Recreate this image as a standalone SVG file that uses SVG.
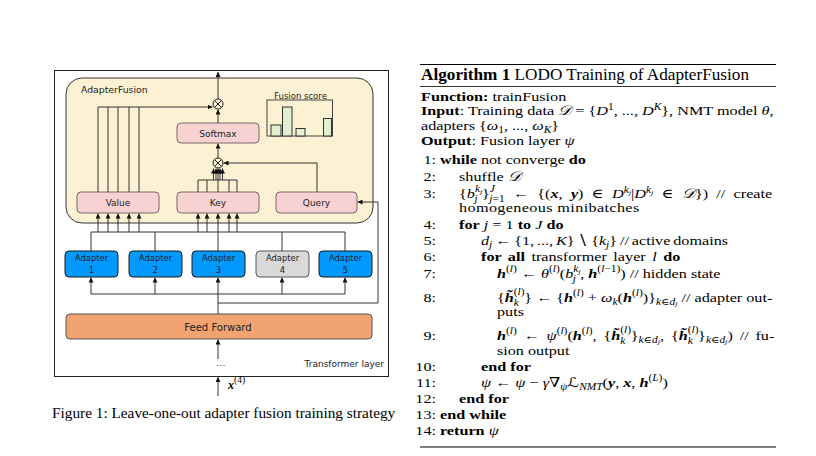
<svg xmlns="http://www.w3.org/2000/svg" width="816" height="456" viewBox="0 0 816 456">
<style>
.ln{fill:none;stroke:#333;stroke-width:1}
.ar{marker-end:url(#ah)}
.lbl{font-family:"DejaVu Sans",sans-serif;font-size:9px;fill:#222;text-anchor:middle}
.pk{fill:#f8d2d2;stroke:#7a6666;stroke-width:1}
.ad{fill:#0099ff;stroke:#1a1a1a;stroke-width:1}
.bar{fill:#e3f0cf;stroke:#333;stroke-width:1}
.t{font-family:"Liberation Serif","DejaVu Serif",serif;font-size:13.5px;fill:#000}
.num{text-anchor:end}
.b{font-weight:bold}
.i{font-style:italic}
.bi{font-weight:bold;font-style:italic}
.s{font-size:9.5px}
.ss{font-size:7px}
.cal{font-family:"DejaVu Serif","DejaVu Sans",serif;font-style:italic}
.rule{stroke:#000;fill:none}
</style>
<defs>
<marker id="ah" viewBox="0 0 6 6" refX="6" refY="3" markerWidth="5" markerHeight="5" markerUnits="userSpaceOnUse" orient="auto"><path d="M0,0L6,3L0,6z" fill="#111"/></marker>
</defs>
<rect width="816" height="456" fill="#fff"/>

<g id="transformer-layer">
<rect x="54.5" y="70.5" width="334" height="306" fill="#fff" stroke="#222"/>
<text class="lbl" x="384" y="367" style="text-anchor:end">Transformer layer</text>
</g>

<g id="adapter-fusion">
<rect x="66" y="78" width="307" height="145" rx="16" fill="#fcf1d2" stroke="#333"/>
<text class="lbl" x="81" y="93" style="text-anchor:start;font-size:9.3px">AdapterFusion</text>
</g>

<g id="fusion-score">
<text class="lbl" x="300.5" y="98.5" style="font-size:8.5px">Fusion score</text>
<rect x="267" y="100" width="65.5" height="36" fill="none" stroke="#444"/>
<rect class="bar" x="271" y="125" width="10" height="11"/>
<rect class="bar" x="282.5" y="107" width="9.5" height="29"/>
<rect class="bar" x="296" y="128.5" width="9" height="7.5"/>
<rect class="bar" x="323.5" y="118.5" width="8" height="17.5"/>
</g>

<g id="softmax"><rect class="pk" x="177" y="123" width="82" height="20" rx="4"/><text class="lbl" x="218" y="136.5">Softmax</text></g>
<g id="value"><rect class="pk" x="77" y="192" width="82" height="21" rx="4"/><text class="lbl" x="118" y="206">Value</text></g>
<g id="key"><rect class="pk" x="177" y="192" width="82" height="21" rx="4"/><text class="lbl" x="218" y="206">Key</text></g>
<g id="query"><rect class="pk" x="276" y="192" width="81" height="21" rx="4"/><text class="lbl" x="316.5" y="206">Query</text></g>

<g id="mult-top"><circle cx="218" cy="104" r="5" fill="#fcf1d2" stroke="#222"/><path d="M214.5,100.5L221.5,107.5M221.5,100.5L214.5,107.5" stroke="#222" fill="none"/></g>
<g id="mult-key"><circle cx="218" cy="163" r="5" fill="#fcf1d2" stroke="#222"/><path d="M214.5,159.5L221.5,166.5M221.5,159.5L214.5,166.5" stroke="#222" fill="none"/></g>

<g id="adapter-1"><rect class="ad" x="65" y="251" width="53" height="26" rx="4"/><text class="lbl" x="91.5" y="261" style="font-size:8.4px">Adapter</text><text class="lbl" x="91.5" y="272.5" style="font-size:8.4px">1</text></g>
<g id="adapter-2"><rect class="ad" x="129" y="251" width="53" height="26" rx="4"/><text class="lbl" x="155.5" y="261" style="font-size:8.4px">Adapter</text><text class="lbl" x="155.5" y="272.5" style="font-size:8.4px">2</text></g>
<g id="adapter-3"><rect class="ad" x="192" y="251" width="53" height="26" rx="4"/><text class="lbl" x="218.5" y="261" style="font-size:8.4px">Adapter</text><text class="lbl" x="218.5" y="272.5" style="font-size:8.4px">3</text></g>
<g id="adapter-4"><rect x="256" y="251" width="53" height="26" rx="4" fill="#d9d9d9" stroke="#555"/><text class="lbl" x="282.5" y="261" style="font-size:8.4px">Adapter</text><text class="lbl" x="282.5" y="272.5" style="font-size:8.4px">4</text></g>
<g id="adapter-5"><rect class="ad" x="319" y="251" width="53" height="26" rx="4"/><text class="lbl" x="345.5" y="261" style="font-size:8.4px">Adapter</text><text class="lbl" x="345.5" y="272.5" style="font-size:8.4px">5</text></g>

<g id="feed-forward"><rect x="66" y="314" width="306" height="25" rx="4" fill="#f1a371" stroke="#555"/><text class="lbl" x="218" y="330.5" style="font-size:10px">Feed Forward</text></g>

<g id="input">
<text class="lbl" x="221" y="366" style="font-size:9px">…</text>
<text class="t" x="228" y="389" style="font-size:12px"><tspan class="bi">x</tspan><tspan class="s" dy="-6">(4)</tspan></text>
</g>

<g id="connectors">
<path class="ln ar" d="M218,99V72"/>
<path class="ln ar" d="M218,123V109.5"/>
<path class="ln ar" d="M218,158V143.5"/>
<path class="ln ar" d="M98,192V107H212.5"/>
<path class="ln" d="M108,192V107M118,192V107M129,192V107M139,192V107"/>
<path class="ln" d="M198,192V180H237V192M207,192V180M218,192V180M229,192V180"/>
<path class="ln ar" d="M213.5,180V168.5"/>
<path class="ln ar" d="M216,180V168.5"/>
<path class="ln ar" d="M218,180V168.5"/>
<path class="ln ar" d="M220,180V168.5"/>
<path class="ln ar" d="M222.5,180V168.5"/>
<path class="ln ar" d="M317,192V163H223.5"/>
<path class="ln ar" d="M98,232V213.5"/>
<path class="ln ar" d="M108,232V213.5"/>
<path class="ln ar" d="M118,232V213.5"/>
<path class="ln ar" d="M129,232V213.5"/>
<path class="ln ar" d="M139,232V213.5"/>
<path class="ln ar" d="M198,232V213.5"/>
<path class="ln ar" d="M207,232V213.5"/>
<path class="ln ar" d="M218,251V213.5"/>
<path class="ln ar" d="M229,232V213.5"/>
<path class="ln ar" d="M237,232V213.5"/>
<path class="ln" d="M91,232H345M91,251V232M155,251V232M282,251V232M345,251V232"/>
<path class="ln ar" d="M218,314V277.5"/>
<path class="ln" d="M91,294H345"/>
<path class="ln ar" d="M91,294V277.5"/>
<path class="ln ar" d="M155,294V277.5"/>
<path class="ln ar" d="M282,294V277.5"/>
<path class="ln ar" d="M345,294V277.5"/>
<path class="ln ar" d="M218,303H378V202H357.5"/>
<path class="ln ar" d="M218,359V339.5"/>
<path class="ln ar" d="M218,396V377"/>
</g>

<text class="t" x="52" y="418" style="font-size:15.3px">Figure 1: Leave-one-out adapter fusion training strategy</text>

<g id="algorithm">
<path class="rule" d="M420,64.5H776" stroke-width="1.2"/>
<path class="rule" d="M420,86.5H776" stroke-width="0.8"/>
<path class="rule" d="M420,447H776" stroke-width="1.2"/>
<text class="t" x="421" y="80" style="font-size:17.2px"><tspan class="b">Algorithm 1</tspan> LODO Training of AdapterFusion</text>
<g transform="translate(421,0) scale(1.2,1) translate(-421,0)">
<text class="t" x="421" y="101"><tspan class="b">Function:</tspan> trainFusion</text>
<text class="t" x="421" y="115"><tspan class="b">Input</tspan>: Training data <tspan class="cal">𝒟</tspan> = {<tspan class="i">D</tspan><tspan class="s" dy="-5">1</tspan><tspan dy="5">, ..., </tspan><tspan class="i">D</tspan><tspan class="s i" dy="-5">K</tspan><tspan dy="5">}, NMT model </tspan><tspan class="i">θ</tspan>,</text>
<text class="t" x="421" y="130">adapters {<tspan class="i">ω</tspan><tspan class="s" dy="3">1</tspan><tspan dy="-3">, ..., </tspan><tspan class="i">ω</tspan><tspan class="s i" dy="3">K</tspan><tspan dy="-3">}</tspan></text>
<text class="t" x="421" y="145"><tspan class="b">Output</tspan>: Fusion layer <tspan class="i">ψ</tspan></text>

<text class="t num" x="433.5" y="164">1:</text>
<text class="t num" x="433.5" y="181">2:</text>
<text class="t num" x="433.5" y="198">3:</text>
<text class="t num" x="433.5" y="229">4:</text>
<text class="t num" x="433.5" y="245">5:</text>
<text class="t num" x="433.5" y="261">6:</text>
<text class="t num" x="433.5" y="278">7:</text>
<text class="t num" x="433.5" y="302">8:</text>
<text class="t num" x="433.5" y="340">9:</text>
<text class="t num" x="433.5" y="371">10:</text>
<text class="t num" x="433.5" y="387">11:</text>
<text class="t num" x="433.5" y="403">12:</text>
<text class="t num" x="433.5" y="419">13:</text>
<text class="t num" x="433.5" y="435">14:</text>

<text class="t" x="436.8" y="164"><tspan class="b">while</tspan> not converge <tspan class="b">do</tspan></text>
<text class="t" x="452.7" y="181">shuffle <tspan class="cal">𝒟</tspan></text>
<text class="t" x="452.7" y="198" style="word-spacing:3.5px">{<tspan class="i">b</tspan><tspan class="s i" dy="-6">k</tspan><tspan class="ss i" dy="2">j</tspan><tspan class="s i" dx="-6.5" dy="8">j</tspan><tspan dx="3.5" dy="-4">}</tspan><tspan class="s i" dy="-6">J</tspan><tspan class="s" dx="-4.5" dy="10"><tspan class="i">j</tspan>=1</tspan><tspan dy="-4"> ← {(</tspan><tspan class="bi">x</tspan>, <tspan class="bi">y</tspan>) ∈ <tspan class="i">D</tspan><tspan class="s i" dy="-5">k</tspan><tspan class="ss i" dy="2">j</tspan><tspan dy="3">|</tspan><tspan class="i">D</tspan><tspan class="s i" dy="-5">k</tspan><tspan class="ss i" dy="2">j</tspan><tspan dy="3"> ∈ </tspan><tspan class="cal">𝒟</tspan>}) // create</text>
<text class="t" x="452.7" y="212" style="letter-spacing:0.3px">homogeneous minibatches</text>
<text class="t" x="452.7" y="229"><tspan class="b">for</tspan> <tspan class="i">j</tspan> = 1 <tspan class="b">to</tspan> <tspan class="i">J</tspan> <tspan class="b">do</tspan></text>
<text class="t" x="471" y="245" style="word-spacing:-1px"><tspan class="i">d</tspan><tspan class="s i" dy="3">j</tspan><tspan dy="-3"> ← {1, ..., </tspan><tspan class="i">K</tspan>} ∖ {<tspan class="i">k</tspan><tspan class="s i" dy="3">j</tspan><tspan dy="-3">} // active domains</tspan></text>
<text class="t" x="471" y="261" style="word-spacing:2px"><tspan class="b">for all</tspan> transformer layer <tspan class="i">l</tspan> <tspan class="b">do</tspan></text>
<text class="t" x="484.3" y="278"><tspan class="bi">h</tspan><tspan class="s" dy="-6">(<tspan class="i">l</tspan>)</tspan><tspan dy="6"> ← </tspan><tspan class="i">θ</tspan><tspan class="s" dy="-6">(<tspan class="i">l</tspan>)</tspan><tspan dy="6">(</tspan><tspan class="i">b</tspan><tspan class="s i" dy="-6">k</tspan><tspan class="ss i" dy="2">j</tspan><tspan class="s i" dx="-6.5" dy="8">j</tspan><tspan dx="3.5" dy="-4">, </tspan><tspan class="bi">h</tspan><tspan class="s" dy="-6">(<tspan class="i">l</tspan>−1)</tspan><tspan dy="6">) // hidden state</tspan></text>
<text class="t" x="484.3" y="302">{<tspan class="bi">h̃</tspan><tspan class="s" dy="-7">(<tspan class="i">l</tspan>)</tspan><tspan class="s i" dx="-9" dy="11">k</tspan><tspan dx="4.5" dy="-4">} ← {</tspan><tspan class="bi">h</tspan><tspan class="s" dy="-6">(<tspan class="i">l</tspan>)</tspan><tspan dy="6"> + </tspan><tspan class="i">ω</tspan><tspan class="s i" dy="3">k</tspan><tspan dy="-3">(</tspan><tspan class="bi">h</tspan><tspan class="s" dy="-6">(<tspan class="i">l</tspan>)</tspan><tspan dy="6">)}</tspan><tspan class="s i" dy="3">k</tspan><tspan class="s">∈</tspan><tspan class="s i">d</tspan><tspan class="ss i" dy="1.5">j</tspan><tspan dy="-4.5"> // adapter out-</tspan></text>
<text class="t" x="484.3" y="316">puts</text>
<text class="t" x="484.3" y="340" style="word-spacing:2.3px"><tspan class="bi">h</tspan><tspan class="s" dy="-6">(<tspan class="i">l</tspan>)</tspan><tspan dy="6"> ← </tspan><tspan class="i">ψ</tspan><tspan class="s" dy="-6">(<tspan class="i">l</tspan>)</tspan><tspan dy="6">(</tspan><tspan class="bi">h</tspan><tspan class="s" dy="-6">(<tspan class="i">l</tspan>)</tspan><tspan dy="6">, {</tspan><tspan class="bi">h̃</tspan><tspan class="s" dy="-7">(<tspan class="i">l</tspan>)</tspan><tspan class="s i" dx="-9" dy="11">k</tspan><tspan dx="4.5" dy="-4">}</tspan><tspan class="s i" dy="3">k</tspan><tspan class="s">∈</tspan><tspan class="s i">d</tspan><tspan class="ss i" dy="1.5">j</tspan><tspan dy="-4.5">, {</tspan><tspan class="bi">h̃</tspan><tspan class="s" dy="-7">(<tspan class="i">l</tspan>)</tspan><tspan class="s i" dx="-9" dy="11">k</tspan><tspan dx="4.5" dy="-4">}</tspan><tspan class="s i" dy="3">k</tspan><tspan class="s">∈</tspan><tspan class="s i">d</tspan><tspan class="ss i" dy="1.5">j</tspan><tspan dy="-4.5">) // fu-</tspan></text>
<text class="t" x="484.3" y="355">sion output</text>
<text class="t" x="471" y="371"><tspan class="b">end for</tspan></text>
<text class="t" x="471" y="387"><tspan class="i">ψ</tspan> ← <tspan class="i">ψ</tspan> − <tspan class="i">γ</tspan>∇<tspan class="s i" dy="3">ψ</tspan><tspan class="cal" dy="-3">ℒ</tspan><tspan class="s i" dy="3">NMT</tspan><tspan dy="-3">(</tspan><tspan class="bi">y</tspan>, <tspan class="bi">x</tspan>, <tspan class="bi">h</tspan><tspan class="s" dy="-6">(<tspan class="i">L</tspan>)</tspan><tspan dy="6">)</tspan></text>
<text class="t" x="452.7" y="403"><tspan class="b">end for</tspan></text>
<text class="t" x="436.8" y="419"><tspan class="b">end while</tspan></text>
<text class="t" x="436.8" y="435"><tspan class="b">return</tspan> <tspan class="i">ψ</tspan></text>
</g>
</g>
</svg>
